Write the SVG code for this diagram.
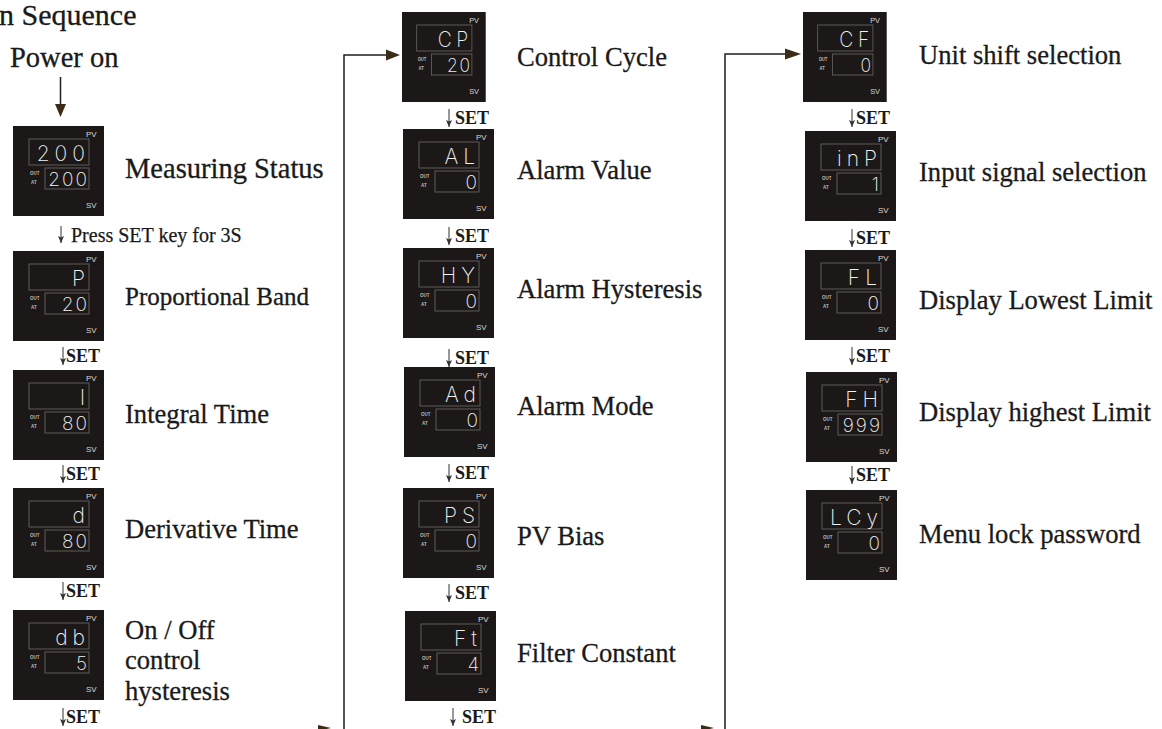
<svg xmlns="http://www.w3.org/2000/svg" width="1162" height="729" viewBox="0 0 1162 729">
<style>
.bg{fill:#ffffff}
.box{fill:#1b1817}
.win{fill:none;stroke:#6e6c6a;stroke-width:0.8}
.lbl{font-family:"Liberation Sans",Arial,sans-serif;font-size:8px;fill:#d8d8d8}
.tiny{font-family:"Liberation Sans",Arial,sans-serif;font-size:4.5px;font-weight:bold;fill:#bdbdbd}
.dt{font-family:Inter,"DejaVu Sans",sans-serif;font-weight:200;font-size:21px;fill:#f2f2f2;text-anchor:end;letter-spacing:5px}
.db{font-family:Inter,"DejaVu Sans",sans-serif;font-weight:200;font-size:19px;fill:#f2f2f2;text-anchor:end;letter-spacing:2px}
.cap{font-family:"Liberation Serif","Times New Roman",serif;font-size:26.6px;fill:#1a1a1a;stroke:#1a1a1a;stroke-width:0.3}
.set{font-family:"Liberation Serif","Times New Roman",serif;font-size:18px;font-weight:bold;fill:#1a1a1a}
.press{font-family:"Liberation Serif","Times New Roman",serif;font-size:20px;fill:#1a1a1a;stroke:#1a1a1a;stroke-width:0.25}
.big{font-family:"Liberation Serif","Times New Roman",serif;font-size:28.5px;fill:#1a1a1a;stroke:#1a1a1a;stroke-width:0.3}
.conn{fill:none;stroke:#1e1e1e;stroke-width:1.5}
.step{stroke:#333;stroke-width:1;fill:none}
.head{fill:#3a2c16}
</style>
<defs>
<marker id="sm" viewBox="0 0 7 6" refX="7" refY="3" markerWidth="7" markerHeight="6" markerUnits="userSpaceOnUse" orient="auto">
<path d="M0,0 L7,3 L0,6 L1.5,3 Z" fill="#333"/>
</marker>
<g id="frame">
<rect class="box" x="0" y="0" width="91" height="90"/>
<rect class="win" x="16" y="13" width="60" height="26"/>
<rect class="win" x="32" y="42" width="44" height="21"/>
<text class="lbl" x="73" y="11">PV</text>
<text class="tiny" x="17" y="49">OUT</text>
<text class="tiny" x="18" y="58">AT</text>
<text class="lbl" x="73" y="82">SV</text>
</g>
</defs>
<rect class="bg" x="0" y="0" width="1162" height="729"/>

<text class="big" x="-1" y="25" style="font-size:30px">n Sequence</text>
<text class="big" x="10" y="67">Power on</text>

<g id="connectors">
<line class="conn" x1="60.5" y1="77" x2="60.5" y2="105"/>
<polygon class="head" points="55,104 66,104 60.5,117"/>
<path class="conn" d="M344,729 V55 H388"/>
<polygon class="head" points="386,49.5 400,55 386,60.5"/>
<path class="conn" d="M725,729 V54 H787"/>
<polygon class="head" points="785,48.5 801,54 785,59.5"/>
<polygon class="head" points="318,725 331,728 318,731"/>
<polygon class="head" points="701,725 714,728 701,731"/>
<line class="step" x1="61" y1="226" x2="61" y2="243" marker-end="url(#sm)"/>
<line class="step" x1="63" y1="347" x2="63" y2="365" marker-end="url(#sm)"/>
<line class="step" x1="63" y1="465" x2="63" y2="483" marker-end="url(#sm)"/>
<line class="step" x1="63" y1="582" x2="63" y2="600" marker-end="url(#sm)"/>
<line class="step" x1="63" y1="708" x2="63" y2="726" marker-end="url(#sm)"/>
<line class="step" x1="449" y1="109" x2="449" y2="127" marker-end="url(#sm)"/>
<line class="step" x1="449" y1="227" x2="449" y2="245" marker-end="url(#sm)"/>
<line class="step" x1="449" y1="349" x2="449" y2="367" marker-end="url(#sm)"/>
<line class="step" x1="449" y1="464" x2="449" y2="482" marker-end="url(#sm)"/>
<line class="step" x1="449" y1="584" x2="449" y2="602" marker-end="url(#sm)"/>
<line class="step" x1="453" y1="708" x2="453" y2="726" marker-end="url(#sm)"/>
<line class="step" x1="852" y1="109" x2="852" y2="127" marker-end="url(#sm)"/>
<line class="step" x1="852" y1="229" x2="852" y2="247" marker-end="url(#sm)"/>
<line class="step" x1="852" y1="347" x2="852" y2="365" marker-end="url(#sm)"/>
<line class="step" x1="852" y1="466" x2="852" y2="484" marker-end="url(#sm)"/>
</g>

<g id="step-labels">
<text class="press" x="71" y="242">Press SET key for 3S</text>
<text class="set" x="66" y="362">SET</text>
<text class="set" x="66" y="480">SET</text>
<text class="set" x="66" y="597">SET</text>
<text class="set" x="66" y="723">SET</text>
<text class="set" x="455" y="124">SET</text>
<text class="set" x="455" y="242">SET</text>
<text class="set" x="455" y="364">SET</text>
<text class="set" x="455" y="479">SET</text>
<text class="set" x="455" y="599">SET</text>
<text class="set" x="462" y="723">SET</text>
<text class="set" x="856" y="124">SET</text>
<text class="set" x="856" y="244">SET</text>
<text class="set" x="856" y="362">SET</text>
<text class="set" x="856" y="481">SET</text>
</g>

<g id="n-measure" transform="translate(13,126)"><use href="#frame"/><text class="dt" x="77" y="35">200</text><text class="db" x="76" y="60">200</text></g>
<text class="cap" x="125" y="178" style="font-size:28.5px">Measuring Status</text>
<g id="n-p" transform="translate(13,251)"><use href="#frame"/><text class="dt" x="77" y="35">P</text><text class="db" x="76" y="60">20</text></g>
<text class="cap" x="125" y="305" style="font-size:25px">Proportional Band</text>
<g id="n-i" transform="translate(13,370)"><use href="#frame"/><text class="dt" x="77" y="35">I</text><text class="db" x="76" y="60">80</text></g>
<text class="cap" x="125" y="423">Integral Time</text>
<g id="n-d" transform="translate(13,488)"><use href="#frame"/><text class="dt" x="77" y="35">d</text><text class="db" x="76" y="60">80</text></g>
<text class="cap" x="125" y="538">Derivative Time</text>
<g id="n-db" transform="translate(13,610)"><use href="#frame"/><text class="dt" x="77" y="35">db</text><text class="db" x="76" y="60">5</text></g>
<text class="cap" x="125" y="639">On / Off</text>
<text class="cap" x="125" y="669">control</text>
<text class="cap" x="125" y="700">hysteresis</text>

<g id="n-cp" transform="translate(402,12) scale(0.92,1)"><use href="#frame"/><text class="dt" x="77" y="35">CP</text><text class="db" x="76" y="60">20</text></g>
<text class="cap" x="517" y="66">Control Cycle</text>
<g id="n-al" transform="translate(403,129)"><use href="#frame"/><text class="dt" x="77" y="35">AL</text><text class="db" x="76" y="60">0</text></g>
<text class="cap" x="517" y="179">Alarm Value</text>
<g id="n-hy" transform="translate(403,248)"><use href="#frame"/><text class="dt" x="77" y="35">HY</text><text class="db" x="76" y="60">0</text></g>
<text class="cap" x="517" y="298">Alarm Hysteresis</text>
<g id="n-ad" transform="translate(404,367)"><use href="#frame"/><text class="dt" x="77" y="35">Ad</text><text class="db" x="76" y="60">0</text></g>
<text class="cap" x="517" y="415">Alarm Mode</text>
<g id="n-ps" transform="translate(403,488)"><use href="#frame"/><text class="dt" x="77" y="35">PS</text><text class="db" x="76" y="60">0</text></g>
<text class="cap" x="517" y="545">PV Bias</text>
<g id="n-ft" transform="translate(405,611)"><use href="#frame"/><text class="dt" x="77" y="35">Ft</text><text class="db" x="76" y="60">4</text></g>
<text class="cap" x="517" y="662">Filter Constant</text>

<g id="n-cf" transform="translate(803,12) scale(0.92,1)"><use href="#frame"/><text class="dt" x="77" y="35">CF</text><text class="db" x="76" y="60">0</text></g>
<text class="cap" x="919" y="64">Unit shift selection</text>
<g id="n-inp" transform="translate(805,131)"><use href="#frame"/><text class="dt" x="77" y="35">inP</text><text class="db" x="76" y="60">1</text></g>
<text class="cap" x="919" y="181">Input signal selection</text>
<g id="n-fl" transform="translate(805,250)"><use href="#frame"/><text class="dt" x="77" y="35">FL</text><text class="db" x="76" y="60">0</text></g>
<text class="cap" x="919" y="309">Display Lowest Limit</text>
<g id="n-fh" transform="translate(806,372)"><use href="#frame"/><text class="dt" x="77" y="35">FH</text><text class="db" x="76" y="60">999</text></g>
<text class="cap" x="919" y="421">Display highest Limit</text>
<g id="n-lcy" transform="translate(806,490)"><use href="#frame"/><text class="dt" x="77" y="35">LCy</text><text class="db" x="76" y="60">0</text></g>
<text class="cap" x="919" y="543">Menu lock password</text>
</svg>
